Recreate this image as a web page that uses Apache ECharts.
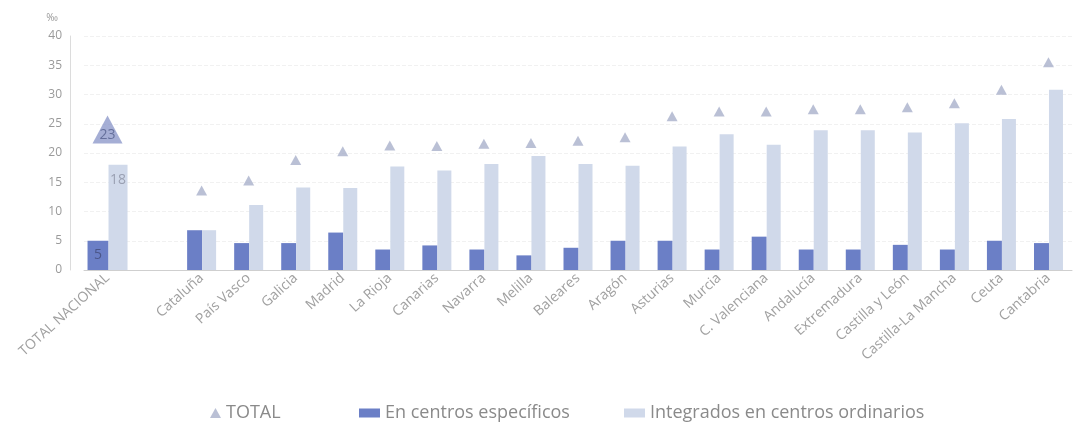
<!DOCTYPE html>
<html>
<head>
<meta charset="utf-8">
<script src="https://cdn.jsdelivr.net/npm/echarts@6/dist/echarts.min.js"></script>
<style>
html,body{margin:0;padding:0;background:#fff;}
#chart{width:1080px;height:423px;}
</style>
</head>
<body>
<div id="chart"></div>
<script>
// Categories (index 1 is an empty spacer slot, as in the reference)
var categories = ['TOTAL NACIONAL', '', 'Cataluña', 'País Vasco', 'Galicia', 'Madrid', 'La Rioja', 'Canarias', 'Navarra', 'Melilla', 'Baleares', 'Aragón', 'Asturias', 'Murcia', 'C. Valenciana', 'Andalucía', 'Extremadura', 'Castilla y León', 'Castilla-La Mancha', 'Ceuta', 'Cantabria'];

// Regional values (‰)
var especificos = [null, null, 6.8, 4.6, 4.6, 6.4, 3.5, 4.2, 3.5, 2.5, 3.8, 5.0, 5.0, 3.5, 5.7, 3.5, 3.5, 4.3, 3.5, 5.0, 4.6];
var integrados  = [null, null, 6.8, 11.1, 14.1, 14.0, 17.7, 17.0, 18.1, 19.5, 18.1, 17.8, 21.1, 23.2, 21.4, 23.9, 23.9, 23.5, 25.1, 25.8, 30.8];
var total       = [null, null, 13.6, 15.3, 18.8, 20.3, 21.3, 21.2, 21.6, 21.7, 22.1, 22.7, 26.3, 27.1, 27.1, 27.5, 27.5, 27.8, 28.5, 30.8, 35.5];

// National totals (‰)
var nacEspecificos = [5, null];
var nacIntegrados  = [18, null];
var nacTotal       = [23, null];

var yTicks = [0, 5, 10, 15, 20, 25, 30, 35, 40];

var FONT = '"Open Sans", "Noto Sans", sans-serif';
var cDark = '#6b7fc6';
var cLight = '#d0d9ea';
var cTri = '#a9b0ca';

var chart = echarts.init(document.getElementById('chart'));
chart.setOption({
  animation: false,
  textStyle: {fontFamily: FONT},
  grid: {left: 84, right: 8, top: 36, bottom: 153},
  legend: [
    {left: 205, top: 399, itemWidth: 11, itemHeight: 10, icon: 'triangle',
     data: ['TOTAL'], textStyle: {fontSize: 18, color: '#8a8a8a', fontFamily: FONT}},
    {left: 354, top: 399, itemWidth: 21, itemHeight: 9, icon: 'rect',
     data: ['En centros específicos'], textStyle: {fontSize: 18, color: '#8a8a8a', fontFamily: FONT}},
    {left: 619, top: 399, itemWidth: 21, itemHeight: 9, icon: 'rect',
     data: ['Integrados en centros ordinarios'], textStyle: {fontSize: 18, color: '#8a8a8a', fontFamily: FONT}}
  ],
  xAxis: [
    {type: 'category', data: categories,
     axisLine: {lineStyle: {color: '#cfcfcf'}},
     axisTick: {show: false},
     axisLabel: {interval: 0, rotate: 42, fontSize: 14, color: '#a0a0a0', margin: 6, fontFamily: FONT}},
    {type: 'category', data: categories, show: false}
  ],
  yAxis: {
    type: 'value', min: 0, max: 40, interval: 5, offset: 14,
    name: '‰', nameLocation: 'end', nameGap: 13,
    nameTextStyle: {fontSize: 10, color: '#999', align: 'right', padding: [0, 12, 0, 0]},
    axisLine: {show: true, lineStyle: {color: '#dcdcdc'}},
    axisTick: {show: false},
    axisLabel: {fontSize: 12, color: '#9a9a9a', margin: 8, fontFamily: FONT,
      formatter: function (v) { return yTicks.indexOf(v) >= 0 ? String(v) : ''; }},
    splitLine: {show: true, lineStyle: {color: '#f1f1f1', type: 'dashed'}}
  },
  series: [
    {name: 'En centros específicos', type: 'bar', xAxisIndex: 0, data: especificos,
     barWidth: 15, barGap: '0%', itemStyle: {color: cDark}},
    {name: 'Integrados en centros ordinarios', type: 'bar', xAxisIndex: 0, data: integrados,
     barWidth: 14, barGap: '0%', itemStyle: {color: cLight}},
    {name: 'En centros específicos', type: 'bar', xAxisIndex: 1, data: nacEspecificos,
     barWidth: 21, barGap: '0%', itemStyle: {color: cDark},
     label: {show: true, position: 'inside', fontSize: 14, color: '#4b5688', fontFamily: FONT}},
    {name: 'Integrados en centros ordinarios', type: 'bar', xAxisIndex: 1, data: nacIntegrados,
     barWidth: 19, barGap: '0%', itemStyle: {color: cLight},
     label: {show: true, position: 'insideTop', distance: 8, fontSize: 14, color: '#9aa0b2', fontFamily: FONT}},
    {name: 'TOTAL', type: 'scatter', xAxisIndex: 0, data: total,
     symbol: 'triangle', symbolSize: [11, 10], itemStyle: {color: cTri}},
    {name: 'TOTAL', type: 'scatter', xAxisIndex: 1, data: nacTotal,
     symbol: 'triangle', symbolSize: [30, 28], symbolOffset: [0, -6], itemStyle: {color: '#8f9acb'},
     label: {show: true, position: 'inside', offset: [0, 6], fontSize: 14, color: '#56618f', fontFamily: FONT}}
  ]
});
</script>
</body>
</html>
